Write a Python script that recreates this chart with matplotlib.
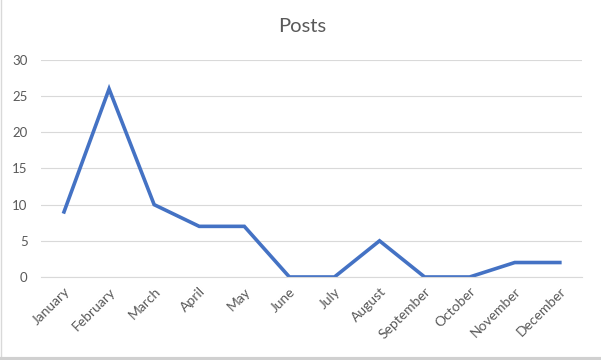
import matplotlib
matplotlib.use("Agg")
import matplotlib.pyplot as plt

months = ["January", "February", "March", "April", "May", "June",
          "July", "August", "September", "October", "November", "December"]
posts = [9, 26, 10, 7, 7, 0, 0, 5, 0, 0, 2, 2]
yticks = [0, 5, 10, 15, 20, 25, 30]

plt.rcParams['font.family'] = ['Lato', 'DejaVu Sans']
grey = '#595959'

fig = plt.figure(figsize=(6.01, 3.6), dpi=100)
ax = fig.add_axes([0.069, 0.2306, 0.9, 0.6027])

x = list(range(len(months)))
ax.plot(x, posts, color='#4472C4', linewidth=2.6, solid_joinstyle='miter')
ax.set_xlim(-0.5, len(months) - 0.5)
ax.set_ylim(0, 30)
ax.set_yticks(yticks)
ax.set_yticklabels([str(v) for v in yticks], color=grey, fontsize=9.5)
ax.set_xticks(x)
ax.set_xticklabels(months, rotation=45, ha='right', rotation_mode='anchor',
                   color=grey, fontsize=10)
ax.tick_params(length=0, pad=10)
ax.tick_params(axis='x', pad=6)
ax.grid(axis='y', color='#D9D9D9', linewidth=0.8)
ax.set_axisbelow(True)
for s in ['top', 'right', 'left']:
    ax.spines[s].set_visible(False)
ax.spines['bottom'].set_color('#D9D9D9')
ax.spines['bottom'].set_linewidth(0.8)

fig.text(0.502, 0.925, "Posts", ha='center', va='center', fontsize=14.5, color=grey)

# spreadsheet edge lines
fig.add_artist(plt.Line2D([0.002, 0.002], [0, 1], color='#D9D9D9', linewidth=1))
fig.add_artist(plt.Line2D([0, 1], [0.004, 0.004], color='#D0D0D0', linewidth=3))

fig.savefig("out.png", dpi=100)
